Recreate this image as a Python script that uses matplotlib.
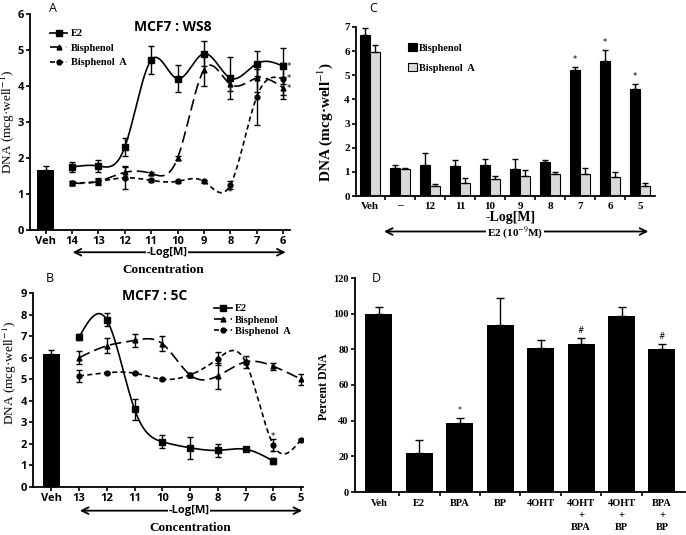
import numpy as np
import matplotlib
matplotlib.use('Agg')
import matplotlib.pyplot as plt

plt.rcParams['mathtext.fontset'] = 'stix'

# ---- data ----
# panel A (MCF7:WS8)
a_conc = ['14', '13', '12', '11', '10', '9', '8', '7', '6']
a_veh, a_veh_err = 1.68, 0.10
a_e2 = [1.75, 1.78, 2.3, 4.72, 4.2, 4.9, 4.22, 4.62, 4.55]
a_e2_err = [0.13, 0.17, 0.25, 0.38, 0.38, 0.35, 0.58, 0.35, 0.5]
a_bp = [1.3, 1.35, 1.6, 1.57, 2.0, 4.45, 4.05, 4.22, 3.95]
a_bp_err = [0.05, 0.08, 0.18, 0.05, 0.05, 0.45, 0.2, 0.4, 0.3]
a_bpa = [1.3, 1.35, 1.45, 1.38, 1.35, 1.35, 1.25, 3.7, 4.2]
a_bpa_err = [0.05, 0.1, 0.3, 0.05, 0.05, 0.05, 0.1, 0.78, 0.45]

# panel B (MCF7:5C)
b_conc = ['13', '12', '11', '10', '9', '8', '7', '6', '5']
b_veh, b_veh_err = 6.15, 0.2
b_e2 = [6.95, 7.75, 3.6, 2.1, 1.82, 1.7, 1.75, 1.2, None]
b_e2_err = [0.15, 0.3, 0.5, 0.3, 0.5, 0.3, 0.1, 0.15, None]
b_bp = [6.0, 6.55, 6.8, 6.65, 5.2, 5.15, 5.8, 5.6, 5.0]
b_bp_err = [0.3, 0.35, 0.3, 0.35, 0.1, 0.6, 0.3, 0.15, 0.25]
b_bpa = [5.15, 5.3, 5.28, 5.0, 5.2, 5.95, 5.8, 1.95, 2.2]
b_bpa_err = [0.3, 0.05, 0.05, 0.05, 0.1, 0.3, 0.05, 0.3, 0.05]

# panel C
c_labels = ['Veh', '\u2013', '12', '11', '10', '9', '8', '7', '6', '5']
c_bp = [6.65, 1.15, 1.3, 1.25, 1.3, 1.1, 1.4, 5.2, 5.6, 4.45]
c_bp_err = [0.3, 0.15, 0.5, 0.25, 0.25, 0.42, 0.08, 0.15, 0.45, 0.18]
c_bpa = [5.95, 1.12, 0.42, 0.52, 0.72, 0.82, 0.9, 0.9, 0.8, 0.42]
c_bpa_err = [0.3, 0.03, 0.08, 0.22, 0.1, 0.25, 0.1, 0.25, 0.2, 0.12]
c_star = [7, 8, 9]

# panel D
d_labels = ['Veh', 'E2', 'BPA', 'BP', '4OHT', '4OHT\n+\nBPA', '4OHT\n+\nBP', 'BPA\n+\nBP']
d_vals = [100, 22, 38.5, 93.5, 81, 83, 98.5, 80]
d_err = [4, 7, 3, 15.5, 4, 3.5, 5.5, 3]
d_marks = {2: '*', 5: '#', 7: '#'}


def smooth(x, y, n=300):
    # natural cubic spline, just to draw the curve through the points
    x = np.asarray(x, float)
    y = np.asarray(y, float)
    k = len(x)
    h = np.diff(x)
    A = np.zeros((k, k))
    r = np.zeros(k)
    A[0, 0] = A[-1, -1] = 1
    for i in range(1, k - 1):
        A[i, i - 1] = h[i - 1]
        A[i, i] = 2 * (h[i - 1] + h[i])
        A[i, i + 1] = h[i]
        r[i] = 3 * ((y[i + 1] - y[i]) / h[i] - (y[i] - y[i - 1]) / h[i - 1])
    c = np.linalg.solve(A, r)
    xs = np.linspace(x[0], x[-1], n)
    idx = np.clip(np.searchsorted(x, xs) - 1, 0, k - 2)
    dx = xs - x[idx]
    b = (y[idx + 1] - y[idx]) / h[idx] - h[idx] * (2 * c[idx] + c[idx + 1]) / 3
    d = (c[idx + 1] - c[idx]) / (3 * h[idx])
    return xs, y[idx] + b * dx + c[idx] * dx ** 2 + d * dx ** 3


SANS = 'Open Sans'
SERIF = 'Liberation Serif'
W, H = 686, 535
TICK = 8

fig = plt.figure(figsize=(6.86, 5.35), dpi=100)


def rect(l, t, r, b):
    return [l / W, 1 - b / H, (r - l) / W, (b - t) / H]


def style(ax):
    for s in ['top', 'right']:
        ax.spines[s].set_visible(False)
    for s in ['left', 'bottom']:
        ax.spines[s].set_linewidth(1.3)
    ax.tick_params(width=1.2, length=3, pad=1.5)


series_style = [
    dict(marker='s', ms=5, ls='-', dashes=(None, None)),
    dict(marker='^', ms=3.5, ls='--', dashes=(7, 3)),
    dict(marker='o', ms=3.5, ls='--', dashes=(3, 2)),
]


def line_panel(ax, conc, veh, veh_err, series, errs, names):
    pos = np.arange(1, len(conc) + 1)
    ax.bar(0, veh, width=0.62, color='black')
    ax.errorbar(0, veh, yerr=[[0], [veh_err]], fmt='none', ecolor='black', capsize=2.5, lw=1)
    for vals, err, name, st in zip(series, errs, names, series_style):
        xs = [p for p, v in zip(pos, vals) if v is not None]
        ys = [v for v in vals if v is not None]
        es = [e for e in err if e is not None]
        sx, sy = smooth(xs, ys)
        if st['ls'] == '-':
            ax.plot(sx, sy, color='black', lw=1.2)
        else:
            ax.plot(sx, sy, color='black', lw=1.2, dashes=st['dashes'])
        ax.errorbar(xs, ys, yerr=es, fmt='none', ecolor='black', capsize=2.5, lw=1)
        ax.plot(xs, ys, ls='none', marker=st['marker'], ms=st['ms'], color='black')
        kw = dict(color='black', lw=1.2, marker=st['marker'], ms=st['ms'])
        if st['ls'] != '-':
            kw['dashes'] = st['dashes']
        ax.plot([], [], label=name, **kw)
    ax.set_xticks(np.arange(0, len(conc) + 1))
    ax.set_xticklabels(['Veh'] + conc, fontfamily=SANS, fontweight='bold', fontsize=TICK)
    ax.set_ylabel('DNA (mcg\u00b7well$^{-1}$)', fontfamily=SERIF, fontsize=9.5)


names = ['E2', 'Bisphenol', 'Bisphenol  A']

# ---- panel A ----
axA = fig.add_axes(rect(30, 14, 290, 230))
style(axA)
line_panel(axA, a_conc, a_veh, a_veh_err, [a_e2, a_bp, a_bpa], [a_e2_err, a_bp_err, a_bpa_err], names)
axA.set_xlim(-0.59, 9.26)
axA.set_ylim(0, 6)
axA.set_yticks(range(0, 7))
axA.set_yticklabels([str(i) for i in range(7)], fontfamily=SANS, fontweight='bold', fontsize=TICK)
axA.yaxis.set_label_coords(-0.05, 0.5)
axA.text(0.55, 0.94, 'MCF7 : WS8', transform=axA.transAxes, ha='center', va='center',
         fontfamily=SANS, fontweight='bold', fontsize=10)
axA.legend(loc='upper left', bbox_to_anchor=(0.06, 0.95), frameon=False, handlelength=1.7,
           handletextpad=0.3, labelspacing=0.5, borderaxespad=0,
           prop=dict(family=SERIF, weight='bold', size=7.5))
for y in [4.55, 4.2, 3.92]:
    axA.text(9.12, y, '*', fontsize=6, ha='left', va='center')
axA.text(7.0, 1.05, '*', fontsize=6, ha='center', va='center')
trA = axA.get_xaxis_transform()
axA.annotate('', xy=(9.2, -0.103), xytext=(0.92, -0.103), xycoords=trA, textcoords=trA,
             arrowprops=dict(arrowstyle='<->', lw=1.3, color='black', mutation_scale=12),
             annotation_clip=False)
axA.text(4.6, -0.103, '-Log[M]', transform=trA, ha='center', va='center', fontfamily=SANS,
         fontweight='bold', fontsize=8, bbox=dict(fc='white', ec='none', pad=0.3))
axA.text(4.45, -0.187, 'Concentration', transform=trA, ha='center', va='center',
         fontfamily=SERIF, fontweight='bold', fontsize=9.5)

# ---- panel B ----
axB = fig.add_axes(rect(33, 293, 303, 487))
style(axB)
line_panel(axB, b_conc, b_veh, b_veh_err, [b_e2, b_bp, b_bpa], [b_e2_err, b_bp_err, b_bpa_err], names)
axB.set_xlim(-0.66, 9.07)
axB.set_ylim(0, 9)
axB.set_yticks(range(0, 10))
axB.set_yticklabels([str(i) for i in range(10)], fontfamily=SANS, fontweight='bold', fontsize=TICK)
axB.yaxis.set_label_coords(-0.05, 0.59)
axB.text(0.45, 0.985, 'MCF7 : 5C', transform=axB.transAxes, ha='center', va='center',
         fontfamily=SANS, fontweight='bold', fontsize=10)
axB.legend(loc='upper left', bbox_to_anchor=(0.655, 0.965), frameon=False, handlelength=1.7,
           handletextpad=0.3, labelspacing=0.2, borderaxespad=0,
           prop=dict(family=SERIF, weight='bold', size=7.5))
axB.text(8.0, 2.35, '*', fontsize=6, ha='center', va='center')
axB.text(8.0, 1.55, '*', fontsize=6, ha='center', va='center')
trB = axB.get_xaxis_transform()
axB.annotate('', xy=(9.14, -0.122), xytext=(0.93, -0.122), xycoords=trB, textcoords=trB,
             arrowprops=dict(arrowstyle='<->', lw=1.3, color='black', mutation_scale=12),
             annotation_clip=False)
axB.text(4.95, -0.122, '-Log[M]', transform=trB, ha='center', va='center', fontfamily=SANS,
         fontweight='bold', fontsize=8, bbox=dict(fc='white', ec='none', pad=0.3))
axB.text(5.0, -0.212, 'Concentration', transform=trB, ha='center', va='center',
         fontfamily=SERIF, fontweight='bold', fontsize=9.5)

# ---- panel C ----
axC = fig.add_axes(rect(356, 27, 655, 196))
style(axC)
xc = np.arange(len(c_labels))
bw = 0.32
axC.bar(xc - bw / 2, c_bp, width=bw, color='black', edgecolor='black', lw=0.8, label='Bisphenol')
axC.bar(xc + bw / 2, c_bpa, width=bw, color='#d9d9d9', edgecolor='black', lw=0.8, label='Bisphenol  A')
axC.errorbar(xc - bw / 2, c_bp, yerr=[np.zeros(len(c_bp)), c_bp_err], fmt='none', ecolor='black',
             capsize=2.5, lw=1)
axC.errorbar(xc + bw / 2, c_bpa, yerr=[np.zeros(len(c_bpa)), c_bpa_err], fmt='none', ecolor='black',
             capsize=2.5, lw=1)
for i in c_star:
    axC.text(xc[i] - bw / 2, c_bp[i] + c_bp_err[i] + 0.12, '*', ha='center', va='bottom', fontsize=6)
axC.set_xlim(-0.47, 9.5)
axC.set_ylim(0, 7)
axC.set_yticks(range(0, 8))
axC.set_yticklabels([str(i) for i in range(8)], fontfamily=SERIF, fontweight='bold', fontsize=8)
axC.set_xticks(xc)
axC.set_xticklabels(c_labels, fontfamily=SERIF, fontweight='bold', fontsize=8)
axC.tick_params(axis='x', length=0, pad=4)
axC.set_xticks(xc[:-1] + 0.5, minor=True)
axC.tick_params(axis='x', which='minor', length=3, width=1.2)
axC.set_ylabel('DNA (mcg\u00b7well$^{-1}$)', fontfamily=SERIF, fontweight='bold', fontsize=11)
axC.yaxis.set_label_coords(-0.07, 0.44)
axC.legend(loc='upper left', bbox_to_anchor=(0.16, 0.93), frameon=False, handlelength=0.9,
           handleheight=0.8, handletextpad=0.15, labelspacing=1.0, borderaxespad=0,
           prop=dict(family=SERIF, weight='bold', size=7.5))
trC = axC.get_xaxis_transform()
axC.text(4.67, -0.13, '-Log[M]', transform=trC, ha='center', va='center', fontfamily=SERIF,
         fontweight='bold', fontsize=10)
axC.annotate('', xy=(9.37, -0.21), xytext=(0.37, -0.21), xycoords=trC, textcoords=trC,
             arrowprops=dict(arrowstyle='<->', lw=1.3, color='black', mutation_scale=12),
             annotation_clip=False)
axC.text(4.83, -0.218, 'E2 (10$^{-9}$M)', transform=trC, ha='center', va='center',
         fontfamily=SERIF, fontweight='bold', fontsize=8,
         bbox=dict(fc='white', ec='none', pad=0.3))

# ---- panel D ----
axD = fig.add_axes(rect(355, 278, 685, 492))
style(axD)
xd = np.arange(len(d_labels))
axD.bar(xd, d_vals, width=0.67, color='black')
axD.errorbar(xd, d_vals, yerr=[np.zeros(len(d_vals)), d_err], fmt='none', ecolor='black',
             capsize=3, lw=1)
for i, m in d_marks.items():
    axD.text(xd[i], d_vals[i] + d_err[i] + 1.5, m, ha='center', va='bottom', fontsize=5.5)
axD.set_xlim(-0.59, 7.57)
axD.set_ylim(0, 120)
axD.set_yticks(range(0, 121, 20))
axD.set_yticklabels([str(v) for v in range(0, 121, 20)], fontfamily=SERIF, fontweight='bold', fontsize=7.5)
axD.set_xticks(xd)
axD.set_xticklabels(d_labels, fontfamily=SERIF, fontweight='bold', fontsize=7.5, linespacing=1.45)
axD.tick_params(axis='x', length=0, pad=5)
axD.set_xticks(xd[:-1] + 0.5, minor=True)
axD.tick_params(axis='x', which='minor', length=3, width=1.2)
axD.set_ylabel('Percent DNA', fontfamily=SERIF, fontweight='bold', fontsize=8.5)
axD.yaxis.set_label_coords(-0.075, 0.49)

# panel letters
for lab, px, py in [('A', 53, 8), ('B', 50, 278), ('C', 373, 8), ('D', 376, 279)]:
    fig.text(px / W, 1 - py / H, lab, fontfamily=SANS, fontsize=9, ha='center', va='center')

fig.savefig('out.png', dpi=100)
